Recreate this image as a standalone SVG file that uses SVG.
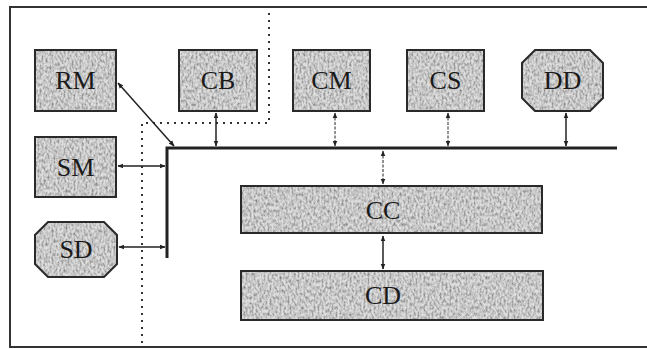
<svg xmlns="http://www.w3.org/2000/svg" width="647" height="349" viewBox="0 0 647 349">
<defs>
<filter id="tex" x="0" y="0" width="100%" height="100%">
<feTurbulence type="fractalNoise" baseFrequency="0.5 0.3" numOctaves="2" seed="3" result="n"/>
<feColorMatrix in="n" type="matrix" values="0 0 0 0 0  0 0 0 0 0  0 0 0 0 0  1.8 0 0 0 -0.62" result="a"/>
<feFlood flood-color="#dedede" result="bg"/>
<feFlood flood-color="#707070" result="dk"/>
<feComposite in="dk" in2="a" operator="in" result="spots"/>
<feMerge result="m"><feMergeNode in="bg"/><feMergeNode in="spots"/></feMerge>
<feComposite in="m" in2="SourceGraphic" operator="in"/>
</filter>
<marker id="ah" viewBox="0 0 10 10" refX="9" refY="5" markerWidth="6" markerHeight="6" orient="auto-start-reverse" markerUnits="userSpaceOnUse">
<path d="M0,1 L10,5 L0,9 Z" fill="#222"/>
</marker>
<style>
.fill{fill:#bbb;filter:url(#tex)}
.box{fill:none;stroke:#2a2a2a;stroke-width:2}
.lbl{font-family:"Liberation Serif","Times New Roman",serif;font-size:26px;fill:#1a1a1a;text-anchor:middle}
.arr{stroke:#222;stroke-width:1.5;fill:none;marker-start:url(#ah);marker-end:url(#ah)}
.thin{stroke:#222;stroke-width:1;stroke-dasharray:3 1.5;fill:none;marker-start:url(#ah);marker-end:url(#ah)}
.dot{stroke:#333;stroke-width:2;stroke-dasharray:2 5;fill:none}
</style>
</defs>
<rect width="647" height="349" fill="#fff"/>
<g id="frame" fill="none" stroke="#333" stroke-width="2">
<path d="M647,7 L10,7 L10,347 L647,347"/>
</g>
<g id="zones">
<path class="dot" d="M269,13 L269,123 L142,123 L142,347"/>
</g>
<g id="RM"><rect class="fill" x="35" y="50" width="81" height="61"/><rect class="box" x="35" y="50" width="81" height="61"/><text class="lbl" x="75.5" y="89">RM</text></g>
<g id="CB"><rect class="fill" x="179" y="50" width="78" height="61"/><rect class="box" x="179" y="50" width="78" height="61"/><text class="lbl" x="218" y="89">CB</text></g>
<g id="CM"><rect class="fill" x="293" y="50" width="77" height="61"/><rect class="box" x="293" y="50" width="77" height="61"/><text class="lbl" x="331.5" y="89">CM</text></g>
<g id="CS"><rect class="fill" x="407" y="50" width="77" height="61"/><rect class="box" x="407" y="50" width="77" height="61"/><text class="lbl" x="445.5" y="89">CS</text></g>
<g id="DD"><path class="fill" d="M535,50 L590,50 L603,63 L603,98 L590,111 L535,111 L522,98 L522,63 Z"/><path class="box" d="M535,50 L590,50 L603,63 L603,98 L590,111 L535,111 L522,98 L522,63 Z"/><text class="lbl" x="562.5" y="89">DD</text></g>
<g id="SM"><rect class="fill" x="35" y="137" width="81" height="60"/><rect class="box" x="35" y="137" width="81" height="60"/><text class="lbl" x="75.5" y="176">SM</text></g>
<g id="SD"><path class="fill" d="M48,222 L104,222 L117,235 L117,264 L104,277 L48,277 L35,264 L35,235 Z"/><path class="box" d="M48,222 L104,222 L117,235 L117,264 L104,277 L48,277 L35,264 L35,235 Z"/><text class="lbl" x="76" y="258">SD</text></g>
<g id="CC"><rect class="fill" x="241" y="186" width="301" height="47"/><rect class="box" x="241" y="186" width="301" height="47"/><text class="lbl" x="383" y="219">CC</text></g>
<g id="CD"><rect class="fill" x="241" y="271" width="302" height="49"/><rect class="box" x="241" y="271" width="302" height="49"/><text class="lbl" x="383" y="304">CD</text></g>
<g id="connectors">
<path d="M167,258 L167,148 L617,148" fill="none" stroke="#222" stroke-width="3"/>
<line class="arr" x1="118" y1="83" x2="174" y2="146"/>
<line class="arr" x1="216" y1="113" x2="216" y2="146"/>
<line class="thin" x1="335" y1="113" x2="335" y2="146"/>
<line class="thin" x1="448" y1="113" x2="448" y2="146"/>
<line class="arr" x1="566" y1="113" x2="566" y2="146"/>
<line class="thin" x1="383" y1="151" x2="383" y2="184"/>
<line class="arr" x1="383" y1="236" x2="383" y2="269"/>
<line class="arr" x1="118" y1="166" x2="165" y2="166"/>
<line class="arr" x1="119" y1="247" x2="165" y2="247"/>
</g>
</svg>
